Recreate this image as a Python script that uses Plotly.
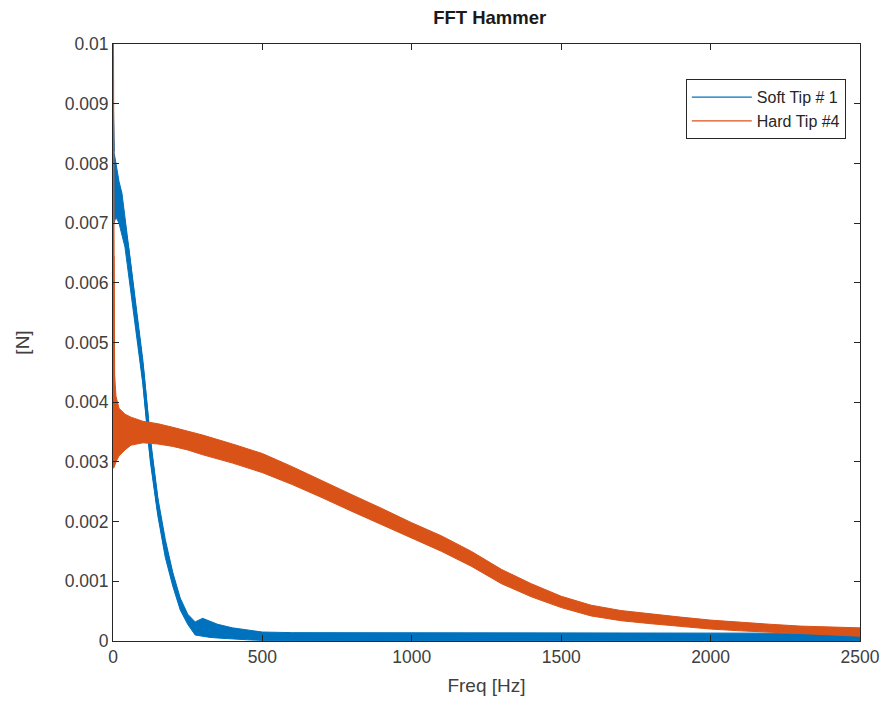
import plotly.graph_objects as go

# ---- data (envelope of the noisy FFT bands) ----
soft_freq = [0, 3, 10, 20, 30, 40, 50, 75, 100, 125, 150, 175, 200, 225, 250, 275,
             300, 325, 350, 400, 450, 500, 600, 800, 1000, 1200, 1400, 1600, 1800,
             2000, 2200, 2400, 2500]
soft_hi = [0.0089, 0.0082, 0.0080, 0.0077, 0.0075, 0.0071, 0.0068, 0.0057, 0.0047,
           0.0034, 0.0024, 0.0017, 0.00115, 0.00072, 0.00045, 0.00032, 0.00038,
           0.00033, 0.00028, 0.00022, 0.00018, 0.00015, 0.00014, 0.00014, 0.00013,
           0.00013, 0.00014, 0.00013, 0.00013, 0.00013, 0.00013, 0.00013, 0.00013]
soft_lo = [0.0070, 0.0070, 0.0071, 0.0070, 0.0068, 0.0066, 0.0063, 0.0053, 0.0043,
           0.0030, 0.0021, 0.0014, 0.00092, 0.00052, 0.00028, 0.00010, 0.00008,
           0.00006, 0.00005, 0.00003, 0.00002, 0.00001, 0.0, 0.0, 0.0, 0.0, 0.0,
           0.0, 0.0, 0.0, 0.0, 0.0, 0.0]

hard_freq = [0, 3, 10, 20, 40, 60, 100, 150, 200, 250, 300, 400, 500, 600, 700, 800,
             900, 1000, 1100, 1200, 1300, 1400, 1500, 1600, 1700, 1800, 1900, 2000,
             2100, 2200, 2300, 2400, 2500]
hard_hi = [0.0100, 0.0046, 0.0041, 0.0039, 0.0038, 0.00375, 0.00368, 0.00364, 0.00358,
           0.00352, 0.00345, 0.00330, 0.00314, 0.00292, 0.00268, 0.00245, 0.00222,
           0.00198, 0.00176, 0.00150, 0.00120, 0.00096, 0.00075, 0.00060, 0.00051,
           0.00045, 0.00040, 0.00035, 0.00031, 0.00028, 0.00025, 0.00023, 0.00022]
hard_lo = [0.0029, 0.0029, 0.0030, 0.0031, 0.0032, 0.00328, 0.00332, 0.00330, 0.00326,
           0.00320, 0.00312, 0.00298, 0.00282, 0.00262, 0.00240, 0.00217, 0.00194,
           0.00172, 0.00150, 0.00125, 0.00096, 0.00074, 0.00056, 0.00042, 0.00034,
           0.00029, 0.00024, 0.00020, 0.00017, 0.00015, 0.00012, 0.00010, 0.00008]

series_names = ["Soft Tip # 1", "Hard Tip #4"]
x_ticks = [0, 500, 1000, 1500, 2000, 2500]
y_ticks = [0, 0.001, 0.002, 0.003, 0.004, 0.005, 0.006, 0.007, 0.008, 0.009, 0.01]
y_tick_text = ["0", "0.001", "0.002", "0.003", "0.004", "0.005", "0.006", "0.007",
               "0.008", "0.009", "0.01"]

BLUE = "#0072BD"
ORANGE = "#D95319"
FONT = "Liberation Sans, Arial"

fig = go.Figure()


def add_band(freq, hi, lo, color, name):
    mid = [(a + b) / 2 for a, b in zip(hi, lo)]
    fig.add_trace(go.Scatter(
        x=list(freq) + list(freq)[::-1], y=list(hi) + list(lo)[::-1],
        fill="toself", fillcolor=color, mode="lines",
        line=dict(color=color, width=1), showlegend=False, hoverinfo="skip"))
    fig.add_trace(go.Scatter(
        x=freq, y=mid, mode="lines", line=dict(color=color, width=3),
        showlegend=False, hoverinfo="skip"))
    # spike at DC
    fig.add_trace(go.Scatter(
        x=[freq[0], freq[1]], y=[hi[0], hi[1]], mode="lines",
        line=dict(color=color, width=2), showlegend=False, hoverinfo="skip"))
    fig.add_trace(go.Scatter(
        x=[None], y=[None], mode="lines", name=name,
        line=dict(color=color, width=1.2)))


add_band(soft_freq, soft_hi, soft_lo, BLUE, series_names[0])
add_band(hard_freq, hard_hi, hard_lo, ORANGE, series_names[1])

axis_common = dict(
    showgrid=False, zeroline=False, showline=True, linecolor="#262626",
    linewidth=1, mirror="ticks", ticks="inside", ticklen=6, tickcolor="#262626",
    tickfont=dict(family=FONT, size=17.5, color="#404040"),
)

fig.update_xaxes(range=[0, 2500], tickvals=x_ticks,
                 title=dict(text="Freq [Hz]", font=dict(family=FONT, size=19,
                                                        color="#404040"),
                            standoff=12),
                 **axis_common)
fig.update_yaxes(range=[0, 0.01], tickvals=y_ticks, ticktext=y_tick_text,
                 title=dict(text="[N]", font=dict(family=FONT, size=19,
                                                  color="#404040"),
                            standoff=30),
                 **axis_common)

fig.update_layout(
    width=892, height=716,
    margin=dict(l=113, r=27, t=44, b=75),
    paper_bgcolor="white", plot_bgcolor="white",
    title=dict(text="<b>FFT Hammer</b>", x=0.549, xanchor="center", y=0.975,
               yanchor="middle",
               font=dict(family=FONT, size=18.5, color="#1a1a1a")),
    legend=dict(x=0.981, y=0.941, xanchor="right", yanchor="top",
                bgcolor="white", bordercolor="#262626", borderwidth=1,
                font=dict(family=FONT, size=16, color="#262626"),
                itemwidth=60),
    showlegend=True,
)

fig.write_html("out.html")
